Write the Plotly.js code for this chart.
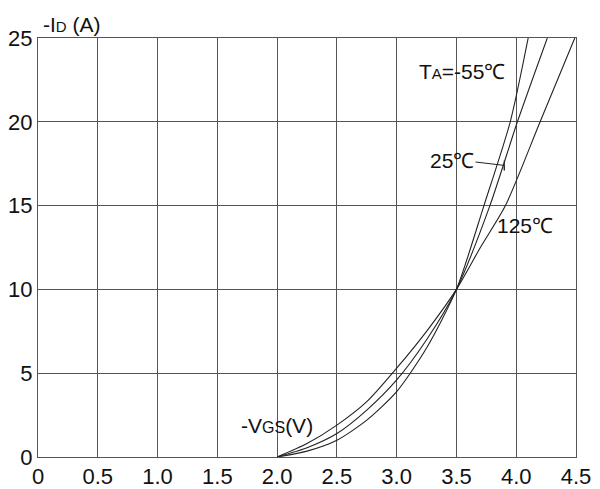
<!DOCTYPE html>
<html>
<head>
<meta charset="utf-8">
<script src="https://cdn.plot.ly/plotly-3.0.1.min.js"></script>
<style>html,body{margin:0;padding:0;background:#fff;}#chart{width:600px;height:489px;}</style>
</head>
<body>
<div id="chart"></div>
<script>
// -VGS (V)
const vgsM55 = [2.0, 2.25, 2.5, 2.75, 3.0, 3.25, 3.5, 3.73, 3.95, 4.10];
const vgs25 = [2.0, 2.25, 2.5, 2.75, 3.0, 3.25, 3.5, 3.78, 4.01, 4.26];
const vgs125 = [2.0, 2.25, 2.5, 2.75, 3.0, 3.25, 3.5, 3.70, 3.91, 4.20, 4.49];
// -ID (A)
const idM55 = [0, 0.35, 1.0, 2.2, 3.9, 6.5, 10, 15, 20, 25];
const id25 = [0, 0.55, 1.4, 2.8, 4.6, 7.0, 10, 15, 20, 25];
const id125 = [0, 0.8, 1.9, 3.3, 5.3, 7.5, 10, 12.5, 15, 20, 25];
const xTicks = [0, 0.5, 1.0, 1.5, 2.0, 2.5, 3.0, 3.5, 4.0, 4.5];
const xTickText = ['0', '0.5', '1.0', '1.5', '2.0', '2.5', '3.0', '3.5', '4.0', '4.5'];
const yTicks = [0, 5, 10, 15, 20, 25];

const FONT = 'Liberation Sans Narrow, Liberation Sans, Arial, sans-serif';
const line = {color: '#222', width: 1.1, shape: 'spline', smoothing: 0.7};
const traces = [
  {x: vgsM55, y: idM55, mode: 'lines', line: line, name: '-55'},
  {x: vgs25, y: id25, mode: 'lines', line: line, name: '25'},
  {x: vgs125, y: id125, mode: 'lines', line: line, name: '125'},
  {x: [3.66, 3.90, 3.90, 3.90], y: [17.6, 17.4, 17.1, 17.7], mode: 'lines', line: {color: '#222', width: 1}, name: 'leader'}
];
const layout = {
  width: 600, height: 489,
  margin: {l: 38, r: 24, t: 38, b: 32},
  showlegend: false,
  paper_bgcolor: '#fff', plot_bgcolor: '#fff',
  font: {family: FONT, color: '#111', size: 20},
  xaxis: {
    range: [0, 4.5], tickvals: xTicks, ticktext: xTickText,
    showgrid: true, gridcolor: '#555', gridwidth: 1,
    showline: true, linecolor: '#555', linewidth: 1, mirror: true,
    zeroline: false, ticks: '', ticklen: 0,
    tickfont: {family: FONT, size: 22, color: '#111'}
  },
  yaxis: {
    range: [0, 25], tickvals: yTicks,
    showgrid: true, gridcolor: '#555', gridwidth: 1,
    showline: true, linecolor: '#555', linewidth: 1, mirror: true,
    zeroline: false, ticks: '', ticklen: 0,
    tickfont: {family: FONT, size: 22, color: '#111'}
  },
  annotations: [
    {xref: 'paper', yref: 'paper', x: 0.005, y: 1.0, xanchor: 'left', yanchor: 'bottom',
     text: "-I<span style='font-size:15px'>D</span> (A)", showarrow: false,
     font: {family: FONT, size: 21, color: '#111'}},
    {x: 2.0, y: 1.0, xanchor: 'center', yanchor: 'bottom', yshift: 1,
     text: "-V<span style='font-size:16px'>GS</span>(V)", showarrow: false,
     font: {family: FONT, size: 21, color: '#111'}},
    {x: 3.17, y: 23.0, xanchor: 'left', yanchor: 'middle',
     text: "T<span style='font-size:15px'>A</span>=-55℃", showarrow: false,
     font: {family: FONT, size: 21, color: '#111'}},
    {x: 3.66, y: 17.7, xanchor: 'right', yanchor: 'middle',
     text: "25℃", showarrow: false,
     font: {family: FONT, size: 21, color: '#111'}},
    {x: 4.07, y: 13.8, xanchor: 'center', yanchor: 'middle',
     text: "125℃", showarrow: false,
     font: {family: FONT, size: 21, color: '#111'}}
  ]
};
Plotly.newPlot('chart', traces, layout, {staticPlot: true, displayModeBar: false});
</script>
</body>
</html>
